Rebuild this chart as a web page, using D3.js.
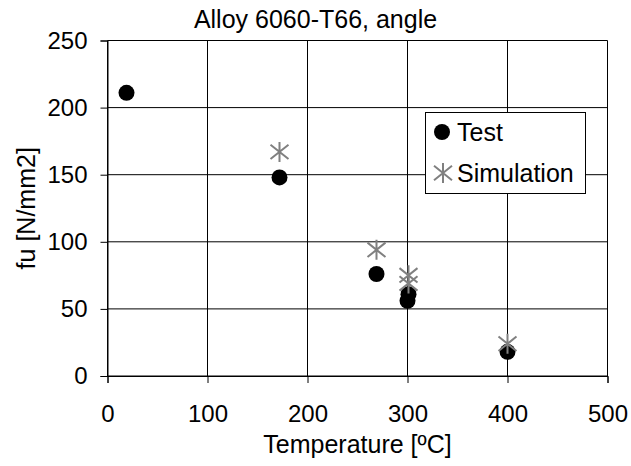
<!DOCTYPE html>
<html>
<head>
<meta charset="utf-8">
<script src="https://cdn.jsdelivr.net/npm/d3@7"></script>
<style>
	body { margin: 0; background: #fff; }
	text { font-family: "Liberation Sans", Arial, sans-serif; fill: #000; }
</style>
</head>
<body>
<script>
const width = 631,
	  height = 466;

// data
var testTemp = [19, 172, 269, 301, 300, 400];
var testFu   = [211, 148, 76, 61, 56, 18];
var simTemp  = [172, 269, 301, 301, 400];
var simFu    = [167, 94, 75, 69, 24];
var xTicks = [0, 100, 200, 300, 400, 500];
var yTicks = [0, 50, 100, 150, 200, 250];
var seriesNames = ["Test", "Simulation"];

// plot box (note: "top" is taken by window.top)
var pLeft = 107.5, pRight = 607.5, pTop = 40.5, pBottom = 376;

var x = d3.scaleLinear().domain([0, 500]).range([pLeft, pRight]);
var y = d3.scaleLinear().domain([0, 250]).range([pBottom, pTop]);

var svg = d3.select("body").append("svg")
	.attr("width", width)
	.attr("height", height);

// star marker like excel's "*"
var star = function (s) {
	return "M0," + (-s - 1) + "L0," + (s + 1) +
		"M" + (-s) + "," + (-s * 0.8) + "L" + s + "," + (s * 0.8) +
		"M" + (-s) + "," + (s * 0.8) + "L" + s + "," + (-s * 0.8);
}

// gridlines
svg.append("g").selectAll("line")
	.data(yTicks)
	.enter().append("line")
	.attr("x1", pLeft).attr("x2", pRight)
	.attr("y1", d => y(d)).attr("y2", d => y(d))
	.attr("stroke", "#000").attr("stroke-width", 1);

svg.append("g").selectAll("line")
	.data(xTicks)
	.enter().append("line")
	.attr("y1", pTop).attr("y2", pBottom)
	.attr("x1", d => x(d)).attr("x2", d => x(d))
	.attr("stroke", "#000").attr("stroke-width", 1);

// axes
var xAxis = svg.append("g")
	.attr("transform", "translate(0," + pBottom + ")")
	.call(d3.axisBottom(x).tickValues(xTicks).tickSize(7).tickPadding(22).tickFormat(d3.format("d")));
var yAxis = svg.append("g")
	.attr("transform", "translate(" + pLeft + ",0)")
	.call(d3.axisLeft(y).tickValues(yTicks).tickSize(7).tickPadding(13).tickFormat(d3.format("d")));

[xAxis, yAxis].forEach(function (a) {
	a.select(".domain").attr("stroke", "#000");
	a.selectAll(".tick line").attr("stroke", "#000");
	a.selectAll("text")
		.style("font-family", "Liberation Sans, Arial, sans-serif")
		.style("font-size", "24px")
		.attr("fill", "#000");
});

// points
svg.append("g").selectAll("circle")
	.data(testTemp)
	.enter().append("circle")
	.attr("cx", d => x(d))
	.attr("cy", (d, i) => y(testFu[i]))
	.attr("r", 8)
	.attr("fill", "#000");

svg.append("g").selectAll("path")
	.data(simTemp)
	.enter().append("path")
	.attr("transform", (d, i) => "translate(" + x(d) + "," + y(simFu[i]) + ")")
	.attr("d", star(9))
	.attr("fill", "none")
	.attr("stroke", "#808080")
	.attr("stroke-width", 2);

// titles
svg.append("text")
	.attr("x", 315.5).attr("y", 28)
	.attr("text-anchor", "middle")
	.style("font-size", "25px")
	.text("Alloy 6060-T66, angle");

svg.append("text")
	.attr("x", (pLeft + pRight) / 2).attr("y", 453)
	.attr("text-anchor", "middle")
	.style("font-size", "25px")
	.text("Temperature [ºC]");

svg.append("text")
	.attr("transform", "translate(35," + ((pTop + pBottom) / 2) + ") rotate(-90)")
	.attr("text-anchor", "middle")
	.style("font-size", "25px")
	.text("fu [N/mm2]");

// legend
var legend = svg.append("g");
legend.append("rect")
	.attr("x", 425.5).attr("y", 112.5)
	.attr("width", 160).attr("height", 81)
	.attr("fill", "#fff")
	.attr("stroke", "#000");

var rowY = [132, 173];
legend.selectAll("text")
	.data(seriesNames)
	.enter().append("text")
	.attr("x", 457)
	.attr("y", (d, i) => rowY[i])
	.attr("dy", "0.35em")
	.style("font-size", "25px")
	.text(d => d);

legend.append("circle")
	.attr("cx", 442).attr("cy", rowY[0])
	.attr("r", 8)
	.attr("fill", "#000");
legend.append("path")
	.attr("transform", "translate(443," + rowY[1] + ")")
	.attr("d", star(9))
	.attr("fill", "none")
	.attr("stroke", "#808080")
	.attr("stroke-width", 2);
</script>
</body>
</html>
